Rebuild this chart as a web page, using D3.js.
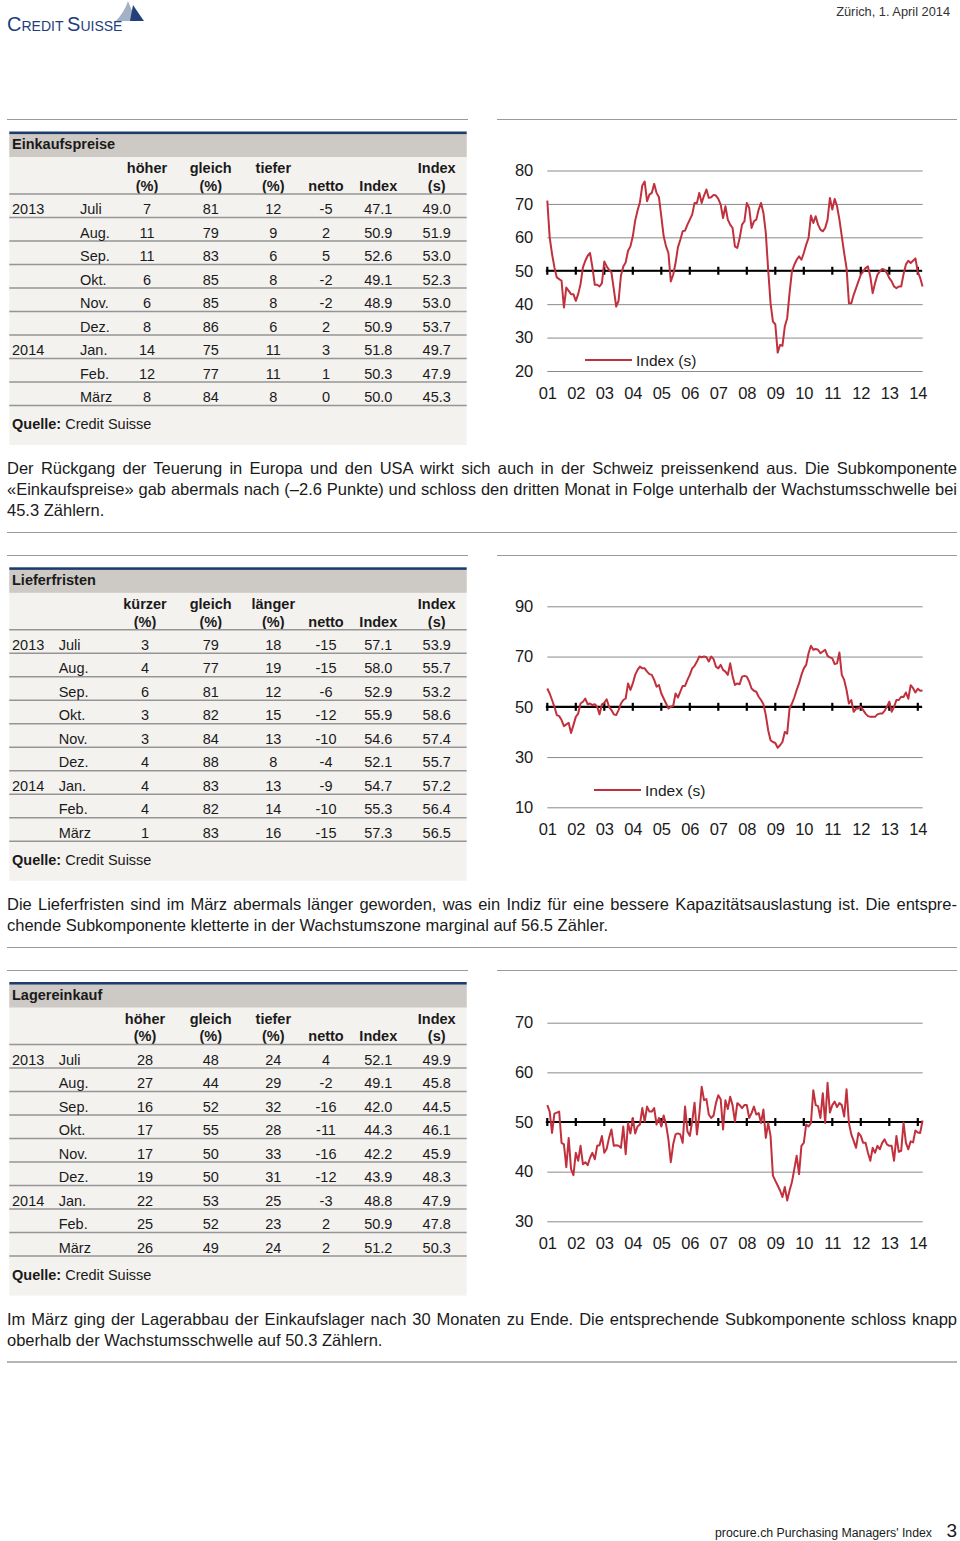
<!DOCTYPE html>
<html><head><meta charset="utf-8">
<script src="https://cdn.jsdelivr.net/npm/d3@7"></script>
<style>
body{margin:0;background:#fff}
svg{display:block}
</style>
</head><body>
<svg id="page" width="960" height="1541"></svg>
<script>
// ---------- DATA ----------
const tableYears  = ["2013","","","","","","2014","",""];
const tableMonths = ["Juli","Aug.","Sep.","Okt.","Nov.","Dez.","Jan.","Feb.","März"];

const einkaufHoeher = [7,11,11,6,6,8,14,12,8];
const einkaufGleich = [81,79,83,85,85,86,75,77,84];
const einkaufTiefer = [12,9,6,8,8,6,11,11,8];
const einkaufNetto  = [-5,2,5,-2,-2,2,3,1,0];
const einkaufIndex  = [47.1,50.9,52.6,49.1,48.9,50.9,51.8,50.3,50.0];
const einkaufIndexS = [49.0,51.9,53.0,52.3,53.0,53.7,49.7,47.9,45.3];

const lieferKuerzer = [3,4,6,3,3,4,4,4,1];
const lieferGleich  = [79,77,81,82,84,88,83,82,83];
const lieferLaenger = [18,19,12,15,13,8,13,14,16];
const lieferNetto   = [-15,-15,-6,-12,-10,-4,-9,-10,-15];
const lieferIndex   = [57.1,58.0,52.9,55.9,54.6,52.1,54.7,55.3,57.3];
const lieferIndexS  = [53.9,55.7,53.2,58.6,57.4,55.7,57.2,56.4,56.5];

const lagerHoeher = [28,27,16,17,17,19,22,25,26];
const lagerGleich = [48,44,52,55,50,50,53,52,49];
const lagerTiefer = [24,29,32,28,33,31,25,23,24];
const lagerNetto  = [4,-2,-16,-11,-16,-12,-3,2,2];
const lagerIndex  = [52.1,49.1,42.0,44.3,42.2,43.9,48.8,50.9,51.2];
const lagerIndexS = [49.9,45.8,44.5,46.1,45.9,48.3,47.9,47.8,50.3];

// monthly series Jan 2001 .. Mar 2014
const einkaufSeries = [
 71,60,55,51,48,47.5,47,39,45,44,43,43,
 41,43,46,51,53,54.5,55.3,51,45.8,45.8,45.3,46.3,
 52.8,51.3,50.3,49.5,44.5,39.3,41,48.5,51.3,52.5,56,57.3,
 60.3,65,68,70.5,75.5,76.7,70.8,72.8,73.3,76,73.3,72,
 66.3,60.3,57.3,55.3,46.8,48.8,52.3,57,59.3,61.8,62,63.8,
 65.3,66.8,70.3,70.3,73.3,70.3,72.5,74.3,71.8,72,72.7,72.5,
 71.5,69.8,65.8,69.3,65.3,63.8,62.8,57.3,56.8,59.8,63.8,64.8,
 70.3,68.8,62.8,64.8,65.3,68.3,70.3,67.3,61.3,50.3,40.3,34.8,
 34,25.5,27.8,27.5,33.3,35.8,43.3,49.8,51.8,53.3,54.3,53.3,
 55.3,57.8,59.8,66.5,64.3,66.3,63.8,62.3,61.8,62.8,65.3,71.8,
 68.3,71.5,69.3,65.3,60.3,55.3,50.8,40.3,40.3,42.8,44.8,46.8,
 48.8,49.8,50.8,51.3,48.3,43.3,46.3,48.8,49.8,50.5,50.3,49.3,
 47.8,46.8,45.3,44.8,45.3,45.3,49.0,51.9,53.0,52.3,53.0,53.7,
 49.7,47.9,45.3
];
const lieferSeries = [
 57.3,55.3,52.7,50,46.7,46.3,44.7,42.3,43,43.6,39.6,42.7,
 46,47.3,51.3,52,53.3,51,51.3,50.7,51,50,47,51,
 51.6,53,50,48.7,47,46.7,48.7,51.3,52.7,53.3,59.3,56.7,
 59.3,62.7,64.7,66,65.3,65.3,64,63,62.7,60.7,58,58.7,
 55.3,53.3,51.3,49.3,50,50.3,55.3,53.7,56,58.3,58.3,60.7,
 62.7,65.3,66.3,68,70,69.7,70,69.7,68,70,69,66,
 65.3,66.7,64.7,64,62.7,67.3,62.3,58.7,59.3,59,62,62.3,
 62,60,57.3,56.4,56,54,52.7,51,46.7,40.7,36.7,36,
 35.6,33.7,34.7,36,40,39.3,49.3,51.3,53.7,56.7,59.3,62.7,
 65.3,66.7,71.3,74.3,72.7,73,72.7,71.3,72,72.7,70.3,69.7,
 69.3,67,67.3,71.6,62.7,60.7,56.7,51.3,52.7,48,49.3,49.3,
 50,48.7,47.3,46.3,46,46,46,47,47.3,47.3,48.4,50,
 52,48,50,52.7,52.7,54,53.9,55.7,53.2,58.6,57.4,55.7,
 57.2,56.4,56.5
];
const lagerSeries = [
 53.4,52.1,47.8,51.7,51.9,52.1,45.8,45.5,40.9,46.8,40.5,39.3,
 43.8,42.2,45.2,41.5,41.9,41.3,42.8,43.8,42.5,45.2,45.3,47.2,
 43.8,44.6,46.8,48.5,45.2,45.3,45.2,44.8,49.1,43.5,49.8,47.7,
 50.8,47.7,49.1,49.5,52.8,50.1,53.1,52.1,52.1,52.8,49.5,50.8,
 49.1,51.3,49.5,46.5,41.9,45.5,47.5,47.7,47.5,45.8,53.1,48.1,
 47.2,50.1,53.9,47.5,51.5,57.1,54.4,54.6,51.5,50.8,51.3,53.8,
 55.4,54.6,48.5,54.4,52.6,55.1,53.4,50.1,53.8,53.4,52.8,53.4,
 53.4,50.8,51.8,53.1,51.5,51.8,49.8,52.5,46.8,49.8,47.2,39.2,
 38.2,37.2,36.2,34.9,36.9,34.2,36.2,37.9,40.5,43.2,39.5,45.2,
 45.8,49.5,49.1,49.8,56.4,53.4,53.2,50.8,55.8,49.8,57.9,51.9,
 53.4,54.1,53,53.8,53.4,51.1,56.6,49.8,47.5,46.2,44.8,47.8,
 47.2,45.8,45.8,43.8,42.2,44.8,43.8,45.2,44.5,45.8,46.5,45.5,
 45.2,45.2,42.2,47.2,44,44.2,49.9,45.8,44.5,46.1,45.9,48.3,
 47.9,47.8,50.3
];

const xYears = [2001,2002,2003,2004,2005,2006,2007,2008,2009,2010,2011,2012,2013,2014];
const xTickLabels = ["01","02","03","04","05","06","07","08","09","10","11","12","13","14"];
const yTicks1 = [20,30,40,50,60,70,80];
const yTicks2 = [10,30,50,70,90];
const yTicks3 = [30,40,50,60,70];

const paragraphs = [
 ["Der Rückgang der Teuerung in Europa und den USA wirkt sich auch in der Schweiz preissenkend aus. Die Subkomponente",
  "«Einkaufspreise» gab abermals nach (–2.6 Punkte) und schloss den dritten Monat in Folge unterhalb der Wachstumsschwelle bei",
  "45.3 Zählern."],
 ["Die Lieferfristen sind im März abermals länger geworden, was ein Indiz für eine bessere Kapazitätsauslastung ist. Die entspre-",
  "chende Subkomponente kletterte in der Wachstumszone marginal auf 56.5 Zähler."],
 ["Im März ging der Lagerabbau der Einkaufslager nach 30 Monaten zu Ende. Die entsprechende Subkomponente schloss knapp",
  "oberhalb der Wachstumsschwelle auf 50.3 Zählern."]
];

// ---------- DRAW ----------
const svg = d3.select("#page");
const FONT = "'Liberation Sans', Arial, Helvetica, sans-serif";
const NARROW = "'Liberation Sans Narrow', 'Arial Narrow', 'Liberation Sans', sans-serif";
const TXT = "#1a1a1a";
const RED = "#c1313d";

// header logo
const logo = svg.append("g");
logo.append("path").attr("d","M116,21 Q125,11 128,1 L136,21 Z").attr("fill","#a3b1c4");
logo.append("path").attr("d","M130,21 L133,5 Q139,14 144,21 Z").attr("fill","#23407a");
const lt = logo.append("text").attr("x",7).attr("y",31).attr("fill","#1f3d7a")
  .attr("font-family",FONT);
lt.append("tspan").attr("font-size",20).text("C");
lt.append("tspan").attr("font-size",14).text("REDIT ");
lt.append("tspan").attr("font-size",20).text("S");
lt.append("tspan").attr("font-size",14).text("UISSE");

svg.append("text").attr("x",950).attr("y",16).attr("text-anchor","end")
  .attr("font-family",NARROW).attr("font-size",12.8).attr("fill","#333")
  .text("Zürich, 1. April 2014");

// footer
svg.append("text").attr("x",932).attr("y",1537).attr("text-anchor","end")
  .attr("font-family",FONT).attr("font-size",12.3).attr("fill",TXT)
  .text("procure.ch Purchasing Managers' Index");
svg.append("text").attr("x",957).attr("y",1537).attr("text-anchor","end")
  .attr("font-family",FONT).attr("font-size",19).attr("fill",TXT).text("3");

// separator lines
function hline(y, x1, x2, color, w){
  svg.append("line").attr("x1",x1).attr("x2",x2).attr("y1",y).attr("y2",y)
    .attr("stroke",color||"#9a9a9a").attr("stroke-width",w||1);
}
[119.5, 555.5, 970.5].forEach(y=>{ hline(y,7,468); hline(y,497,957); });
[532.5, 947.5].forEach(y=>hline(y,7,957));
hline(1362,7,957,"#b5b5b5",2);

// tables
const colX = [147,210.7,273.3,326,378.3,436.7];
function drawTable(T, title, heads, firstColX, monthX, cols){
  const g = svg.append("g").attr("font-family",FONT).attr("fill",TXT);
  g.append("rect").attr("x",9.3).attr("y",T+2.5).attr("width",457.4).attr("height",311).attr("fill","#f4f2ef");
  g.append("rect").attr("x",9.3).attr("y",T+2.5).attr("width",457.4).attr("height",23).attr("fill","#cdc9c5");
  g.append("rect").attr("x",9.3).attr("y",T).attr("width",457.4).attr("height",2.6).attr("fill","#1d3c6c");
  g.append("text").attr("x",12).attr("y",T+17.8).attr("font-size",14.5).attr("font-weight","bold").text(title);
  const cx = colX.slice(); cx[0] = firstColX;
  heads.forEach((h,i)=>{
    g.append("text").attr("x",cx[i]).attr("y",T+41.8).attr("text-anchor","middle")
      .attr("font-size",14.5).attr("font-weight","bold").text(h[0]);
    g.append("text").attr("x",cx[i]).attr("y",T+59.2).attr("text-anchor","middle")
      .attr("font-size",14.5).attr("font-weight","bold").text(h[1]);
  });
  const lineY = k => T+62.5+23.5*k;
  d3.range(10).forEach(k=>{
    g.append("line").attr("x1",9.3).attr("x2",466.7).attr("y1",lineY(k)).attr("y2",lineY(k))
      .attr("stroke","#959595").attr("stroke-width",1.6);
  });
  const fmt1 = d3.format(".1f");
  tableMonths.forEach((m,k)=>{
    const by = T+82.5+23.5*k;
    g.append("text").attr("x",12).attr("y",by).attr("font-size",14.5).text(tableYears[k]);
    g.append("text").attr("x",monthX).attr("y",by).attr("font-size",14.5).text(m);
    cols.forEach((c,i)=>{
      const v = c[k];
      g.append("text").attr("x",cx[i]).attr("y",by).attr("text-anchor","middle")
        .attr("font-size",14.5).text(i>=4 ? fmt1(v) : String(v));
    });
  });
  const q = g.append("text").attr("x",12).attr("y",T+297.5).attr("font-size",14.5);
  q.append("tspan").attr("font-weight","bold").text("Quelle:");
  q.append("tspan").text(" Credit Suisse");
}
drawTable(131.5,"Einkaufspreise",
  [["höher","(%)"],["gleich","(%)"],["tiefer","(%)"],["","netto"],["","Index"],["Index","(s)"]],
  147, 80, [einkaufHoeher,einkaufGleich,einkaufTiefer,einkaufNetto,einkaufIndex,einkaufIndexS]);
drawTable(567.3,"Lieferfristen",
  [["kürzer","(%)"],["gleich","(%)"],["länger","(%)"],["","netto"],["","Index"],["Index","(s)"]],
  145, 58.7, [lieferKuerzer,lieferGleich,lieferLaenger,lieferNetto,lieferIndex,lieferIndexS]);
drawTable(982,"Lagereinkauf",
  [["höher","(%)"],["gleich","(%)"],["tiefer","(%)"],["","netto"],["","Index"],["Index","(s)"]],
  145, 58.7, [lagerHoeher,lagerGleich,lagerTiefer,lagerNetto,lagerIndex,lagerIndexS]);

// charts
const X0 = 547.3, X1 = 922.7;
const x = d3.scaleLinear().domain([2001, 2014+2/12]).range([X0, 922.55]);
function drawChart(series, domain, range, ticks, legend){
  const y = d3.scaleLinear().domain(domain).range(range);
  const g = svg.append("g").attr("font-family",FONT);
  const ya = g.append("g").attr("transform",`translate(${X0},0)`)
    .call(d3.axisLeft(y).tickValues(ticks).tickSize(-(X1-X0)).tickPadding(14).tickFormat(d3.format("d")));
  ya.select(".domain").remove();
  ya.selectAll(".tick line").attr("stroke","#8a8a8a").attr("stroke-width",1);
  ya.selectAll(".tick text").attr("font-size",16.5).attr("fill",TXT).attr("font-family",FONT);
  const xa = g.append("g").attr("transform",`translate(0,${range[0]})`)
    .call(d3.axisBottom(x).tickValues(xYears).tickSize(0).tickFormat((d,i)=>xTickLabels[i]));
  xa.select(".domain").remove();
  xa.selectAll(".tick text").attr("y",27.5).attr("dy",0).attr("font-size",16.5).attr("fill",TXT).attr("font-family",FONT);
  const y50 = y(50);
  g.append("line").attr("x1",X0-1.5).attr("x2",922).attr("y1",y50).attr("y2",y50)
    .attr("stroke","#000").attr("stroke-width",2.2);
  g.selectAll(".yt").data(xYears).join("line").attr("class","yt")
    .attr("x1",d=>x(d)).attr("x2",d=>x(d)).attr("y1",y50-4).attr("y2",y50+4)
    .attr("stroke","#000").attr("stroke-width",2.2);
  const line = d3.line().x((d,i)=>x(2001+i/12)).y(d=>y(d));
  g.append("path").datum(series).attr("d",line).attr("fill","none")
    .attr("stroke",RED).attr("stroke-width",2).attr("stroke-linejoin","round");
  if(legend){
    g.append("line").attr("x1",legend[0]).attr("x2",legend[0]+47).attr("y1",legend[1]).attr("y2",legend[1])
      .attr("stroke",RED).attr("stroke-width",2.2);
    g.append("text").attr("x",legend[0]+51).attr("y",legend[1]+5.5).attr("font-size",15.5)
      .attr("fill",TXT).text("Index (s)");
  }
}
drawChart(einkaufSeries,[20,80],[371,170.5],yTicks1,[585,360]);
drawChart(lieferSeries,[10,90],[807.3,606.3],yTicks2,[594,790]);
drawChart(lagerSeries,[30,70],[1221.3,1022.7],yTicks3,null);

// paragraphs
const paraY = [474, 910, 1325];
paragraphs.forEach((lines,p)=>{
  lines.forEach((s,i)=>{
    const t = svg.append("text").attr("x",7).attr("y",paraY[p]+21*i)
      .attr("font-family",NARROW).attr("font-size",16.5).attr("fill",TXT).text(s);
    if(i < lines.length-1){
      const w = t.node().getComputedTextLength();
      const spaces = (s.match(/ /g)||[]).length;
      t.attr("word-spacing", ((950 - w)/spaces).toFixed(3));
    }
  });
});
</script>
</body></html>
